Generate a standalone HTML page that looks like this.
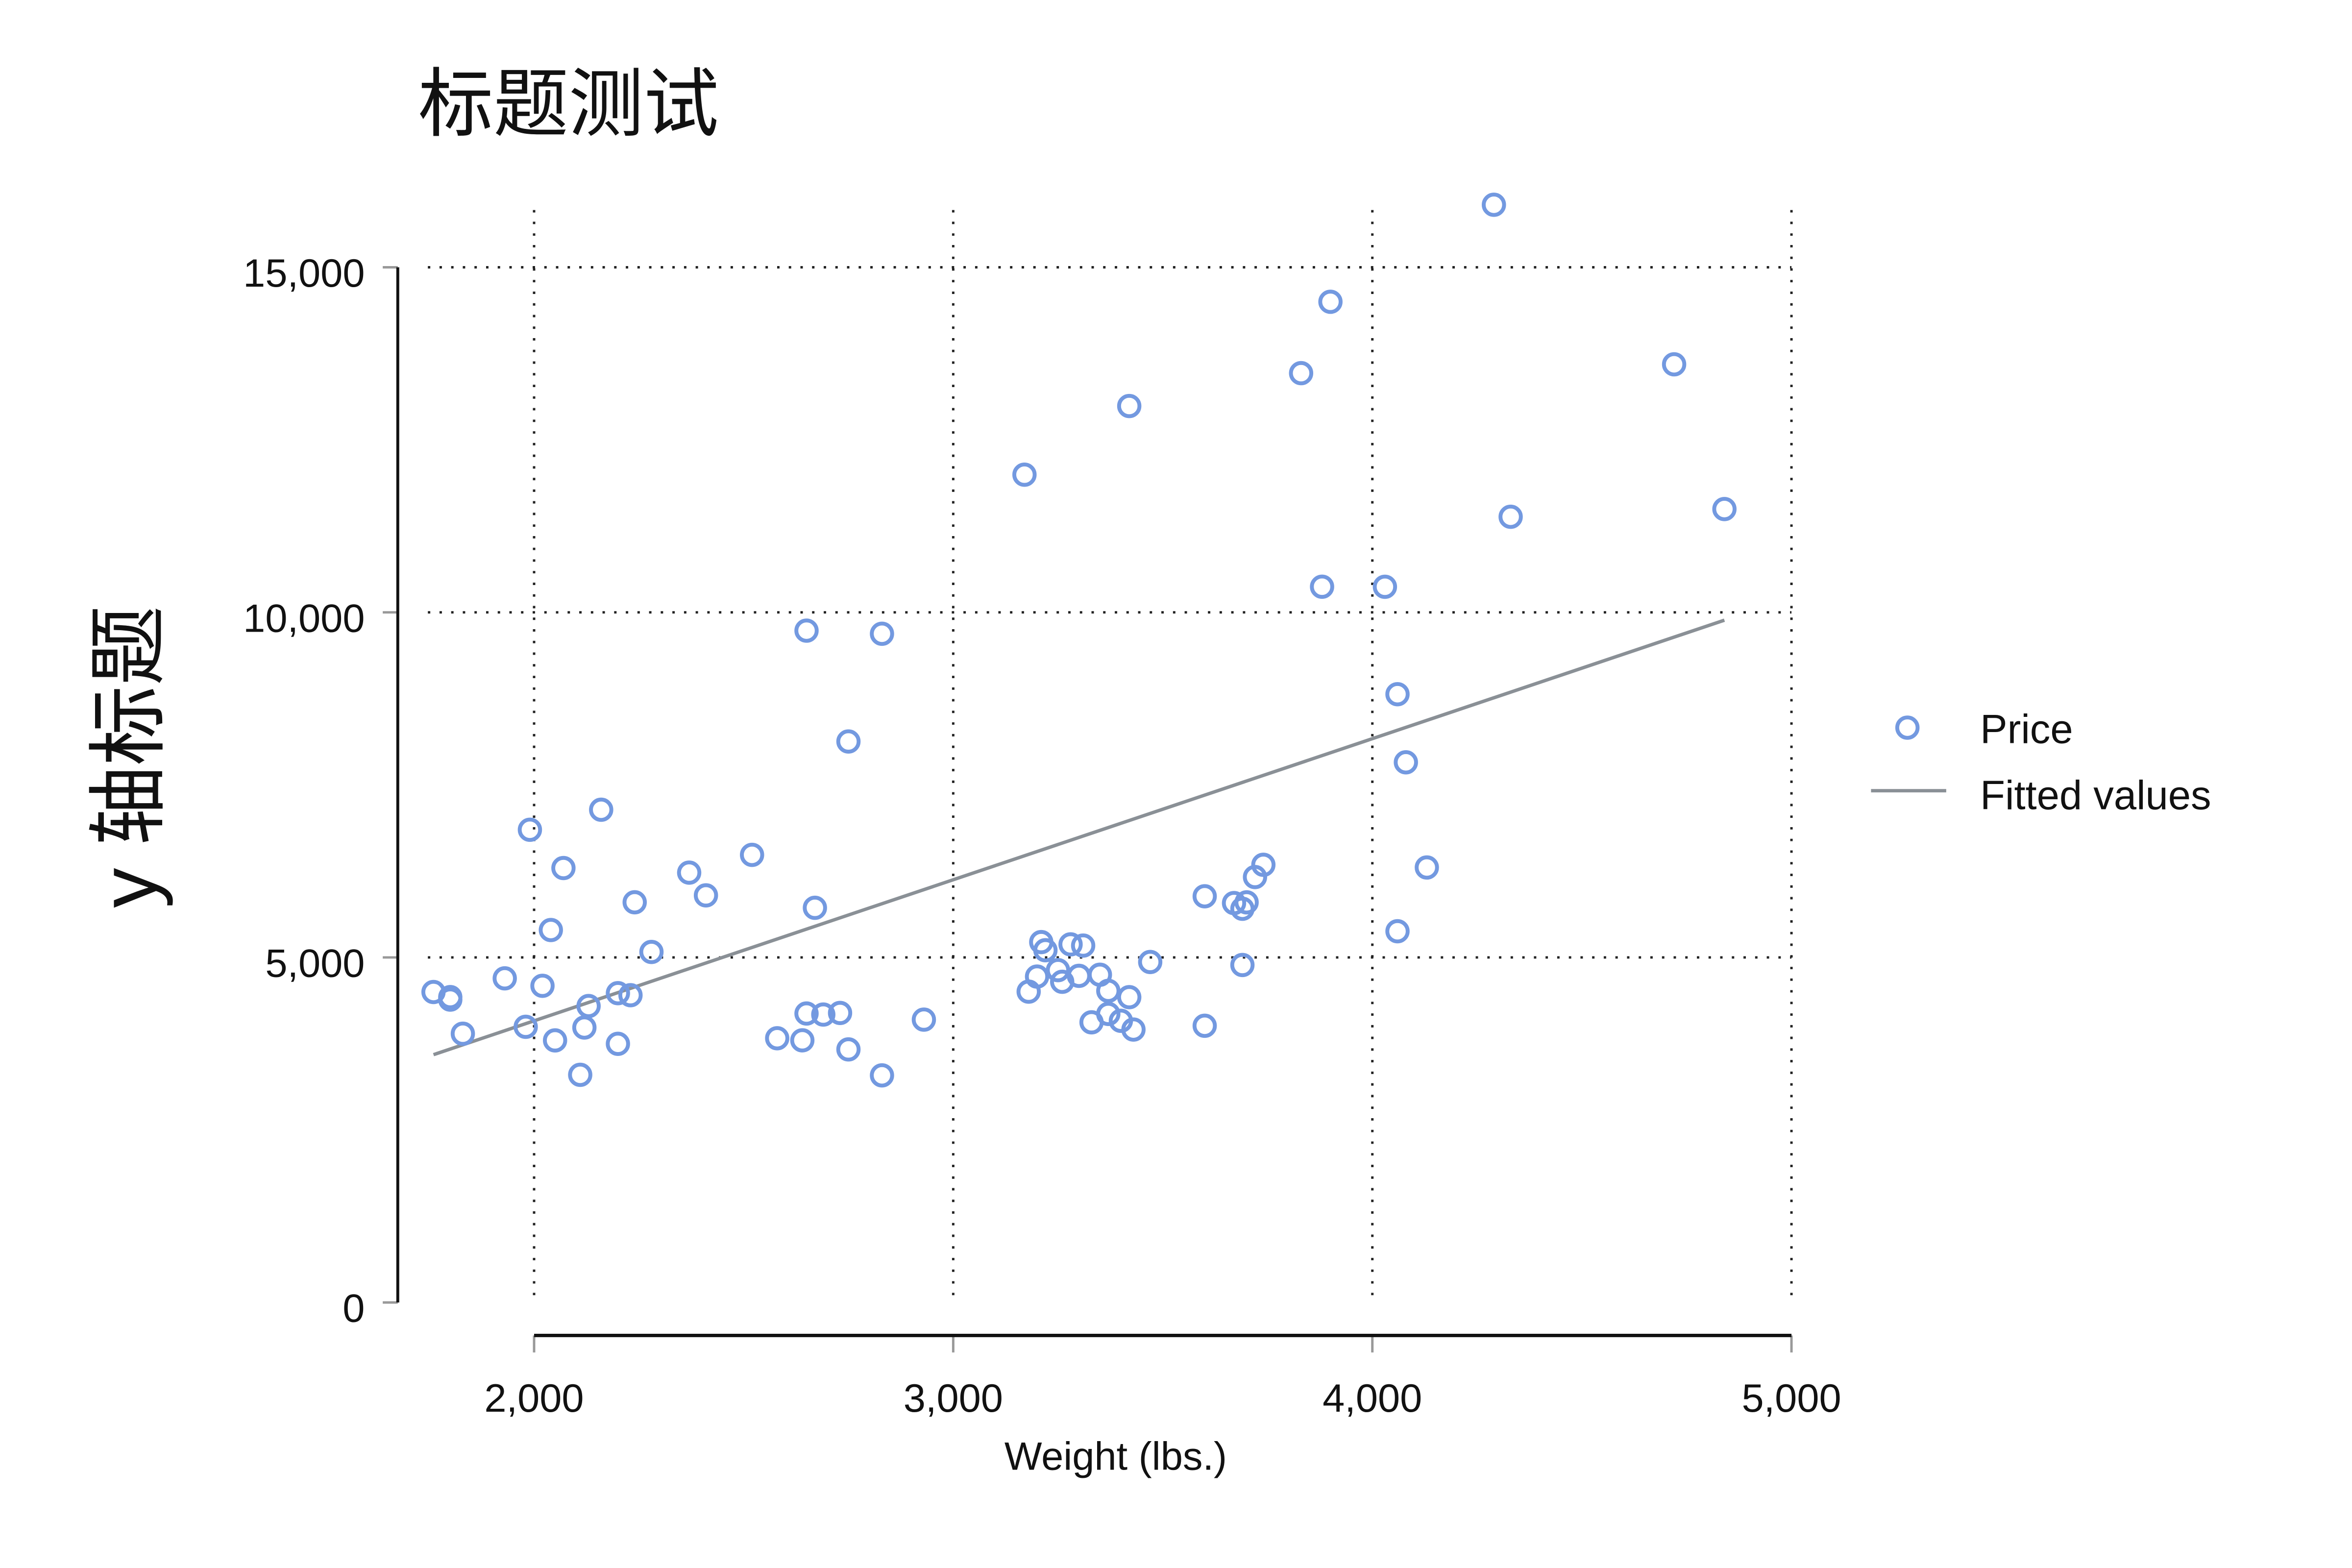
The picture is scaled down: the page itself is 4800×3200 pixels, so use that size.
<!DOCTYPE html>
<html><head><meta charset="utf-8"><style>
html,body{margin:0;padding:0;background:#fff;}
svg{display:block;font-family:"Liberation Sans","Noto Sans CJK SC",sans-serif;}
</style></head><body>
<svg id="chart" width="4800" height="3200" viewBox="0 0 4800 3200" xmlns="http://www.w3.org/2000/svg">
<rect width="4800" height="3200" fill="#fff"/>
<g transform="scale(0.99)">
<text x="862" y="268" font-size="155" fill="#111">标题测试</text>
<text transform="translate(322,1560) rotate(-90)" text-anchor="middle" font-size="165" fill="#111">y 轴标题</text>
<text x="2300" y="3030" text-anchor="middle" font-size="82" fill="#111">Weight (lbs.)</text>
<g id="grid"></g>
<g id="axes"></g>
<g id="fit"></g>
<g id="pts"></g>
<g>
<circle cx="3932" cy="1500" r="21" fill="none" stroke="#7399e0" stroke-width="8"/>
<text x="4082" y="1532" font-size="84" fill="#111">Price</text>
<line x1="3857" y1="1630" x2="4012" y2="1630" stroke="#8a9096" stroke-width="7"/>
<text x="4082" y="1668" font-size="84" fill="#111">Fitted values</text>
</g>
</g>
</svg>
<script>
const weights=[2930,3350,2640,3250,4080,3670,2230,3280,3880,3400,4330,3900,4290,2110,3690,3180,3220,2750,3430,2120,3600,3600,3740,1800,2650,4840,4720,3830,2580,4060,3720,3370,4130,2830,4060,3310,3300,3690,3370,2730,4030,3260,1800,2200,2520,3330,3700,3470,3210,3200,3420,2690,2830,2070,2650,2370,2020,2280,2750,2130,2240,1760,1980,3420,1830,2050,2410,2200,2670,2160,2040,1930,1990,3170];
const prices=[4099,4749,3799,4816,7827,5788,4453,5189,10372,4082,11385,14500,15906,3299,5705,4504,5104,3667,3955,3984,4010,5886,6342,4389,4187,11497,13594,13466,3829,5379,6165,4516,6303,3291,8814,5172,4733,4890,4181,4195,10371,4647,4425,4482,6486,4060,5798,4934,5222,4723,4424,4172,9690,6295,9735,6229,4589,5079,8129,4296,5799,4499,3995,12990,3895,3798,5899,3748,5719,7140,5397,4697,6850,11995];
const xTicks=[2000,3000,4000,5000];
const xTickLabels=["2,000","3,000","4,000","5,000"];
const yTicks=[0,5000,10000,15000];
const yTickLabels=["0","5,000","10,000","15,000"];
const NS="http://www.w3.org/2000/svg";
const X=v=>1101+(v-2000)*(3693-1101)/3000;
const Y=v=>2685-v*(2685-551)/15000;
function mk(tag,attrs,parent){const e=document.createElementNS(NS,tag);for(const k in attrs)e.setAttribute(k,attrs[k]);parent.appendChild(e);return e;}
const grid=document.getElementById('grid'),axes=document.getElementById('axes');
xTicks.forEach((t,i)=>{
 const g=mk('line',{x1:X(t),x2:X(t),y1:433,y2:2685,stroke:'#222','stroke-width':5,'stroke-dasharray':'5 19'},grid);
 
 
 const tk=mk('line',{x1:X(t),x2:X(t),y1:2753,y2:2788,stroke:'#999','stroke-width':5},axes);
 
 
 const tl=mk('text',{x:X(t),y:2910,'text-anchor':'middle','font-size':82,fill:'#111'},axes);
 tl.textContent=xTickLabels[i];
 
 
});
yTicks.forEach((t,i)=>{
 if(t>0){const g=mk('line',{x1:882,x2:3693,y1:Y(t),y2:Y(t),stroke:'#222','stroke-width':5,'stroke-dasharray':'5 19'},grid);
 
 }
 const tk=mk('line',{x1:789,x2:820,y1:Y(t),y2:Y(t),stroke:'#999','stroke-width':5},axes);
 
 
 const tl=mk('text',{x:752,y:Y(t)+40,'text-anchor':'end','font-size':82,fill:'#111'},axes);
 tl.textContent=yTickLabels[i];
 
 
});
const ya=mk('line',{x1:820,x2:820,y1:Y(15000),y2:Y(0),stroke:'#111','stroke-width':6},axes);


const xa=mk('line',{x1:X(2000),x2:X(5000),y1:2753,y2:2753,stroke:'#111','stroke-width':7},axes);


const n=weights.length;let mx=0,my=0;for(let i=0;i<n;i++){mx+=weights[i];my+=prices[i];}mx/=n;my/=n;
let sxy=0,sxx=0;for(let i=0;i<n;i++){sxy+=(weights[i]-mx)*(prices[i]-my);sxx+=(weights[i]-mx)**2;}
const b=sxy/sxx,a=my-b*mx;const xmin=Math.min(...weights),xmax=Math.max(...weights);
const fl=mk('line',{x1:X(xmin),y1:Y(a+b*xmin),x2:X(xmax),y2:Y(a+b*xmax),stroke:'#8a9096','stroke-width':7},document.getElementById('fit'));


const pts=document.getElementById('pts');
for(let i=0;i<n;i++){
 const c=mk('circle',{cx:X(weights[i]),cy:Y(prices[i]),r:21,fill:'none',stroke:'#7399e0','stroke-width':8},pts);
 
 
}
</script>
</body></html>
